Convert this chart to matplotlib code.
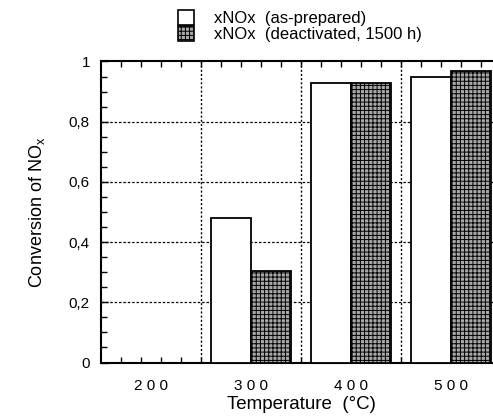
import matplotlib
matplotlib.use("Agg")
import matplotlib.pyplot as plt
from matplotlib.ticker import MultipleLocator, FixedLocator, FuncFormatter
from matplotlib.patches import Patch
import numpy as np

# Conversion of NOx by temperature
temperatures = [200, 300, 400, 500]
as_prepared = [0.0, 0.48, 0.93, 0.95]
deactivated = [0.0, 0.305, 0.93, 0.97]
series_labels = ["xNOx  (as-prepared)", "xNOx  (deactivated, 1500 h)"]

plt.rcParams["font.family"] = ["Liberation Sans", "DejaVu Sans"]
plt.rcParams["hatch.linewidth"] = 0.7

fig = plt.figure(figsize=(4.93, 4.19), dpi=100)
W, H = 493, 419
ax = fig.add_axes([101 / W, 1 - 362.5 / H, 400 / W, 301 / H])

x = np.array(temperatures, dtype=float)
bar_w = 40
ax.bar(x - bar_w / 2, as_prepared, width=bar_w, facecolor="white",
       edgecolor="black", linewidth=1.3, zorder=3)
ax.bar(x + bar_w / 2, deactivated, width=bar_w, facecolor="#a8a8a8",
       edgecolor="black", hatch="++++", linewidth=1.3, zorder=3)

ax.set_xlim(150, 550)
ax.set_ylim(0, 1)

# dotted grid between temperature groups and at y steps
for gx in [250, 350, 450]:
    ax.axvline(gx, color="black", linestyle=(0, (1.5, 1.5)), linewidth=1.0, zorder=1)
for gy in [0.2, 0.4, 0.6, 0.8]:
    ax.axhline(gy, color="black", linestyle=(0, (2, 1.5)), linewidth=0.9, zorder=1)

ax.yaxis.set_major_locator(FixedLocator([0, 0.2, 0.4, 0.6, 0.8, 1.0]))
ax.yaxis.set_minor_locator(MultipleLocator(0.05))
ax.yaxis.set_major_formatter(FuncFormatter(
    lambda v, p: "0" if abs(v) < 1e-9 else ("1" if abs(v - 1) < 1e-9 else f"{v:.1f}".replace(".", ","))))

ax.xaxis.set_major_locator(FixedLocator(temperatures))
ax.xaxis.set_major_formatter(FuncFormatter(lambda v, p: " ".join(str(int(v)))))
ax.xaxis.set_minor_locator(FixedLocator(list(range(170, 550, 20))))

ax.tick_params(axis="x", which="major", length=0, pad=12, labelsize=11)
ax.tick_params(axis="x", which="minor", direction="in", length=4, width=1,
               top=True, bottom=True)
ax.tick_params(axis="y", which="major", direction="in", length=5, width=1,
               labelsize=11, pad=8)
ax.tick_params(axis="y", which="minor", direction="in", length=4, width=1)

for side in ["left", "bottom", "top"]:
    ax.spines[side].set_linewidth(1.5)
ax.spines["right"].set_visible(False)

ax.set_xlabel("Temperature  (°C)", fontsize=13.5, labelpad=2)
ax.set_ylabel("Conversion of NO$_\\mathregular{x}$", fontsize=13, labelpad=16)

handles = [Patch(facecolor="white", edgecolor="black", linewidth=1.2),
           Patch(facecolor="#a8a8a8", edgecolor="black", hatch="++++", linewidth=1.2)]
fig.legend(handles, series_labels, loc="upper left",
           bbox_to_anchor=(166 / W, 1 + 2 / H), frameon=False, fontsize=12,
           handlelength=1.0, handleheight=1.0, handletextpad=1.2,
           labelspacing=0.0, borderpad=0.2)

fig.savefig("out.png", dpi=100)
